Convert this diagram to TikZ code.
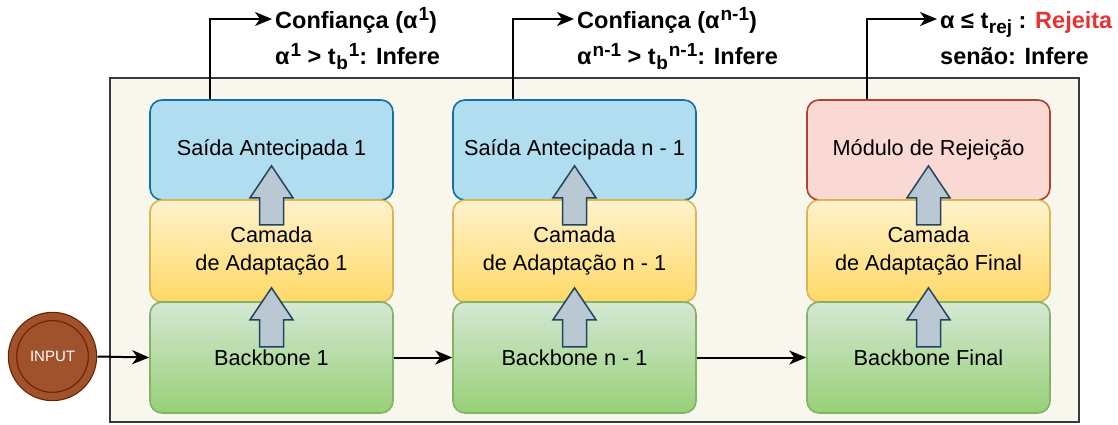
\documentclass[tikz,border=0pt]{standalone}
\usepackage{fontspec}
\setmainfont{Liberation Sans}
\usetikzlibrary{arrows.meta,calc}

\definecolor{boxfill}{RGB}{249,247,237}
\definecolor{boxline}{RGB}{54,57,61}
\definecolor{exitfill}{RGB}{177,221,240}
\definecolor{exitline}{RGB}{16,115,158}
\definecolor{adaptop}{RGB}{255,242,204}
\definecolor{adapbot}{RGB}{255,217,102}
\definecolor{adapline}{RGB}{214,182,86}
\definecolor{bbtop}{RGB}{213,232,212}
\definecolor{bbbot}{RGB}{151,208,119}
\definecolor{bbline}{RGB}{130,179,102}
\definecolor{rejfill}{RGB}{250,217,213}
\definecolor{rejline}{RGB}{174,65,50}
\definecolor{upfill}{RGB}{186,200,211}
\definecolor{upline}{RGB}{35,68,93}
\definecolor{inputfill}{RGB}{160,82,45}
\definecolor{inputline}{RGB}{109,31,0}
\definecolor{rejred}{RGB}{230,50,50}

\tikzset{
  layer/.style={rectangle, rounded corners=12pt, line width=1.6pt, minimum width=243pt,
    align=center, font={\fontsize{21.7}{28}\selectfont}, inner sep=0pt},
  exitbox/.style={layer, fill=exitfill, draw=exitline, minimum height=100pt},
  rejbox/.style={layer, fill=rejfill, draw=rejline, minimum height=100pt},
  adapbox/.style={layer, top color=adaptop, bottom color=adapbot, draw=adapline, minimum height=102pt},
  bbbox/.style={layer, top color=bbtop, bottom color=bbbot, draw=bbline, minimum height=111pt},
  blockarrow/.style={fill=upfill, draw=upline, line width=1.5pt, line join=miter},
  flow/.style={line width=2pt, -{Stealth[length=17pt, width=14pt, inset=5pt]}},
  note/.style={font={\fontsize{23.5}{28}\selectfont\bfseries}, inner sep=3pt},
}

% fat arrow pointing up, #1 = tip
\newcommand{\upblock}[1]{%
  \draw[blockarrow] (#1) -- ++(21.5,32) -- ++(-9.5,0) -- ++(0,27) -- ++(-24,0)
    -- ++(0,-27) -- ++(-9.5,0) -- cycle;}
% raised / lowered small text
\newcommand{\sups}[1]{\kern1pt\raisebox{8pt}{\fontsize{19}{19}\selectfont #1}}
\newcommand{\subs}[1]{\kern0.5pt\raisebox{-5pt}{\fontsize{19}{19}\selectfont #1}}

\begin{document}
\begin{tikzpicture}[x=1pt,y=1pt,yscale=-1,xscale=1]
\useasboundingbox (0,0) rectangle (1118,425);

%container
\draw[fill=boxfill, draw=boxline, line width=2.2pt] (110,78) rectangle (1079,422);

%column 1
\node[exitbox] (sai1) at (271.5,150) {Saída Antecipada 1};
\node[adapbox] (cam1) at (271.5,251) {Camada\\de Adaptação 1};
\node[bbbox] (bb1) at (271.5,357.5) {Backbone 1};
\upblock{$(sai1.south)+(0,-35)$}
\upblock{$(cam1.south)+(0,-15)$}

%column 2
\node[exitbox] (sai2) at (574.5,150) {Saída Antecipada n - 1};
\node[adapbox] (cam2) at (574.5,251) {Camada\\de Adaptação n - 1};
\node[bbbox] (bb2) at (574.5,357.5) {Backbone n - 1};
\upblock{$(sai2.south)+(0,-35)$}
\upblock{$(cam2.south)+(0,-15)$}

%column 3
\node[rejbox] (rej) at (928.5,150) {Módulo de Rejeição};
\node[adapbox] (cam3) at (928.5,251) {Camada\\de Adaptação Final};
\node[bbbox] (bb3) at (928.5,357.5) {Backbone Final};
\upblock{$(rej.south)+(0,-35)$}
\upblock{$(cam3.south)+(0,-15)$}

%input
\node[circle, minimum size=80pt, inner sep=0pt, outer sep=5pt, fill=inputfill, draw=inputline,
  line width=1.2pt, double=inputfill, double distance=7pt, text=white,
  font={\fontsize{15}{18}\selectfont}] (input) at (52.5,356.5) {INPUT};

%main flow
\draw[flow] (input.east) -- (bb1.west);
\draw[flow] (bb1.east) -- (bb2.west);
\draw[flow] (bb2.east) -- (bb3.west);

%exit texts
\node[note, anchor=base west] (conf1) at (272,29) {Confiança (α\sups{1})};
\node[note, anchor=base west] (rule1) at ([yshift=36pt]conf1.base west)
  {α\sups{1} > t\subs{b}\sups{1}: Infere};
\node[note, anchor=base west] (conf2) at (574,29) {Confiança (α\sups{n-1})};
\node[note, anchor=base west] (rule2) at ([yshift=36pt]conf2.base west)
  {α\sups{n-1} > t\subs{b}\sups{n-1}: Infere};
\node[note, anchor=base west] (confr) at (937,29) {α ≤ t\subs{rej} : \textcolor{rejred}{Rejeita}};
\node[note, anchor=base west] (ruler) at ([yshift=36pt]confr.base west) {senão: Infere};

%exit lines
\draw[flow] ([xshift=61pt]sai1.north west) |- ([yshift=-10pt]conf1.base west);
\draw[flow] ([xshift=61pt]sai2.north west) |- ([yshift=-10pt]conf2.base west);
\draw[flow] ([xshift=61pt]rej.north west) |- ([yshift=-10pt]confr.base west);

\end{tikzpicture}
\end{document}
